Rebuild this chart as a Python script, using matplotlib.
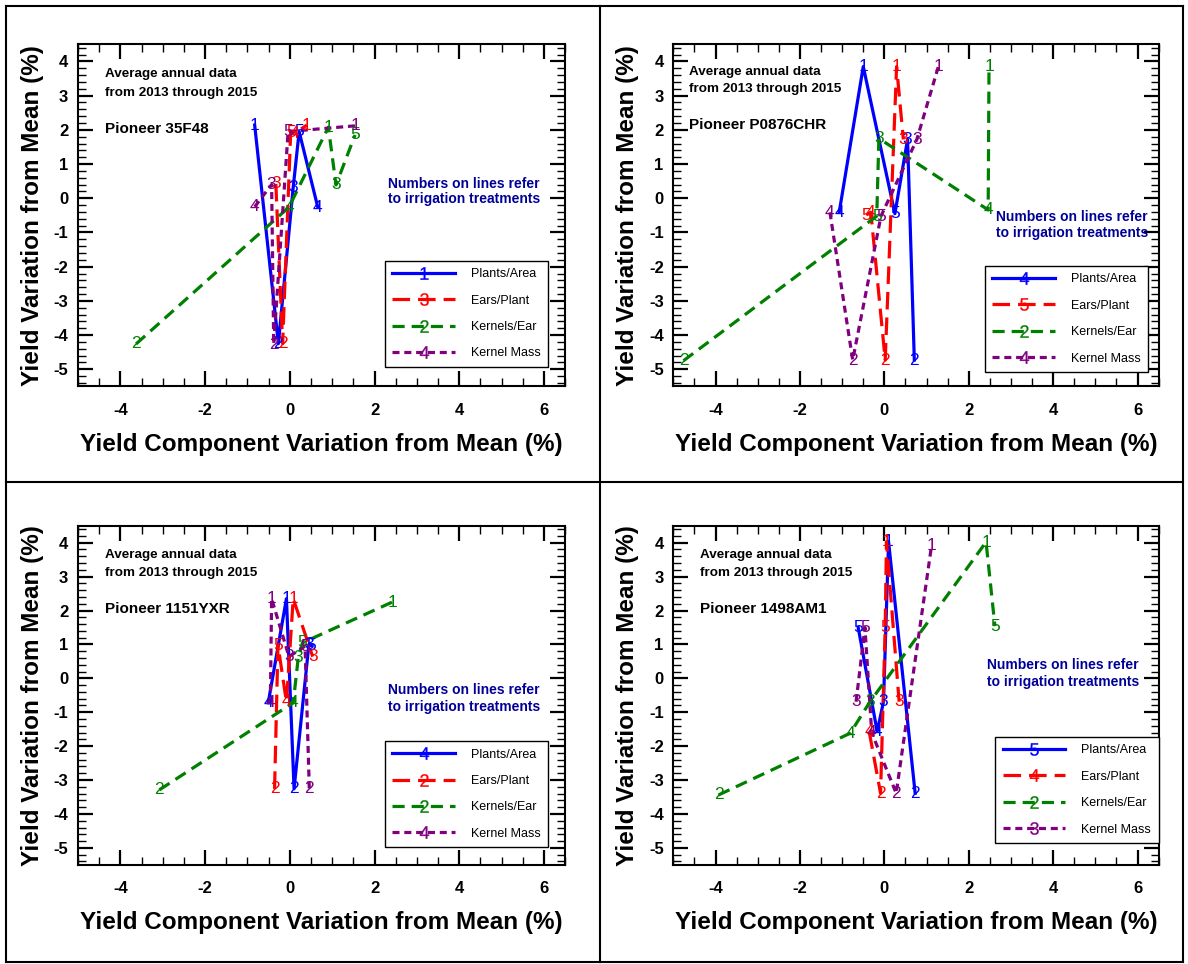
import matplotlib
matplotlib.use('Agg')
import matplotlib.pyplot as plt
from matplotlib.lines import Line2D
from matplotlib.ticker import MultipleLocator

plt.rcParams['font.family'] = 'Liberation Sans'
plt.rcParams['mathtext.default'] = 'regular'
plt.rcParams['axes.unicode_minus'] = False

series_names = ['Plants/Area', 'Ears/Plant', 'Kernels/Ear', 'Kernel Mass']
series_colors = ['#0000ff', '#ff0000', '#008000', '#800080']
series_dashes = [None, (5.5, 2.5), (3.8, 2.2), (2.2, 1.5)]

# Pioneer 35F48
p1_plants_trt = [1, 2, 3, 5, 4]
p1_plants_x = [-0.83, -0.27, 0.08, 0.22, 0.66]
p1_plants_y = [2.14, -4.25, 0.32, 1.95, -0.26]
p1_ears_trt = [3, 2, 5, 4, 1]
p1_ears_x = [-0.33, -0.17, 0.02, 0.12, 0.40]
p1_ears_y = [0.42, -4.25, 1.93, 1.90, 2.14]
p1_kernels_trt = [2, 4, 1, 3, 5]
p1_kernels_x = [-3.63, -0.02, 0.91, 1.09, 1.54]
p1_kernels_y = [-4.26, -0.26, 2.08, 0.39, 1.85]
p1_mass_trt = [4, 3, 2, 5, 1]
p1_mass_x = [-0.83, -0.43, -0.38, -0.04, 1.56]
p1_mass_y = [-0.25, 0.40, -4.27, 1.95, 2.12]
p1_legend_digits = ['1', '3', '2', '4']

# Pioneer P0876CHR
p2_plants_trt = [4, 1, 5, 3, 2]
p2_plants_x = [-1.07, -0.50, 0.25, 0.55, 0.71]
p2_plants_y = [-0.41, 3.85, -0.45, 1.72, -4.73]
p2_ears_trt = [5, 4, 2, 1, 3]
p2_ears_x = [-0.43, -0.32, 0.02, 0.29, 0.45]
p2_ears_y = [-0.49, -0.41, -4.73, 3.85, 1.72]
p2_kernels_trt = [2, 5, 3, 4, 1]
p2_kernels_x = [-4.76, -0.18, -0.13, 2.46, 2.48]
p2_kernels_y = [-4.75, -0.52, 1.75, -0.34, 3.85]
p2_mass_trt = [4, 2, 5, 3, 1]
p2_mass_x = [-1.29, -0.75, -0.08, 0.77, 1.28]
p2_mass_y = [-0.41, -4.73, -0.52, 1.72, 3.85]
p2_legend_digits = ['4', '5', '2', '4']

# Pioneer 1151YXR
p3_plants_trt = [4, 1, 2, 3, 5]
p3_plants_x = [-0.51, -0.08, 0.10, 0.45, 0.50]
p3_plants_y = [-0.72, 2.35, -3.26, 1.00, 0.97]
p3_ears_trt = [2, 5, 4, 1, 3]
p3_ears_x = [-0.36, -0.28, -0.08, 0.08, 0.54]
p3_ears_y = [-3.26, 0.98, -0.69, 2.35, 0.64]
p3_kernels_trt = [2, 4, 3, 5, 1]
p3_kernels_x = [-3.08, 0.08, 0.20, 0.30, 2.42]
p3_kernels_y = [-3.29, -0.72, 0.62, 1.05, 2.25]
p3_mass_trt = [4, 1, 3, 5, 2]
p3_mass_x = [-0.46, -0.43, -0.02, 0.36, 0.46]
p3_mass_y = [-0.72, 2.35, 0.64, 0.95, -3.26]
p3_legend_digits = ['4', '2', '2', '4']

# Pioneer 1498AM1
p4_plants_trt = [5, 4, 3, 1, 2]
p4_plants_x = [-0.62, -0.17, -0.02, 0.10, 0.73]
p4_plants_y = [1.50, -1.57, -0.69, 4.03, -3.39]
p4_ears_trt = [4, 2, 5, 1, 3]
p4_ears_x = [-0.36, -0.09, 0.02, 0.05, 0.35]
p4_ears_y = [-1.57, -3.39, 1.50, 4.03, -0.69]
p4_kernels_trt = [2, 4, 3, 1, 5]
p4_kernels_x = [-3.93, -0.81, -0.34, 2.41, 2.62]
p4_kernels_y = [-3.44, -1.62, -0.69, 4.02, 1.54]
p4_mass_trt = [3, 5, 4, 2, 1]
p4_mass_x = [-0.67, -0.46, -0.30, 0.28, 1.12]
p4_mass_y = [-0.69, 1.50, -1.60, -3.39, 3.93]
p4_legend_digits = ['5', '4', '2', '3']

panels = [
    dict(name='Pioneer 35F48', rect=[0.0657, 0.5992, 0.41, 0.3548],
         series=[(p1_plants_trt, p1_plants_x, p1_plants_y), (p1_ears_trt, p1_ears_x, p1_ears_y),
                 (p1_kernels_trt, p1_kernels_x, p1_kernels_y), (p1_mass_trt, p1_mass_x, p1_mass_y)],
         digits=p1_legend_digits, note=(0.637, 0.593, 0.547), leg=(0.63, 0.057), head=(0.055, 0.912, 0.859, 0.753)),
    dict(name='Pioneer P0876CHR', rect=[0.5668, 0.5992, 0.4085, 0.3548],
         series=[(p2_plants_trt, p2_plants_x, p2_plants_y), (p2_ears_trt, p2_ears_x, p2_ears_y),
                 (p2_kernels_trt, p2_kernels_x, p2_kernels_y), (p2_mass_trt, p2_mass_x, p2_mass_y)],
         digits=p2_legend_digits, note=(0.665, 0.495, 0.449), leg=(0.642, 0.042), head=(0.033, 0.918, 0.869, 0.764)),
    dict(name='Pioneer 1151YXR', rect=[0.0657, 0.1029, 0.41, 0.3517],
         series=[(p3_plants_trt, p3_plants_x, p3_plants_y), (p3_ears_trt, p3_ears_x, p3_ears_y),
                 (p3_kernels_trt, p3_kernels_x, p3_kernels_y), (p3_mass_trt, p3_mass_x, p3_mass_y)],
         digits=p3_legend_digits, note=(0.637, 0.516, 0.466), leg=(0.63, 0.052), head=(0.055, 0.914, 0.86, 0.754)),
    dict(name='Pioneer 1498AM1', rect=[0.5668, 0.1029, 0.4085, 0.3517],
         series=[(p4_plants_trt, p4_plants_x, p4_plants_y), (p4_ears_trt, p4_ears_x, p4_ears_y),
                 (p4_kernels_trt, p4_kernels_x, p4_kernels_y), (p4_mass_trt, p4_mass_x, p4_mass_y)],
         digits=p4_legend_digits, note=(0.646, 0.589, 0.539), leg=(0.663, 0.064), head=(0.054, 0.914, 0.86, 0.754)),
]

fig = plt.figure(figsize=(11.88, 9.64), dpi=100)

for p in panels:
    ax = fig.add_axes(p['rect'])
    handles = []
    for (trt, xs, ys), col, dsh, name, dg in zip(p['series'], series_colors, series_dashes,
                                                  series_names, p['digits']):
        # lines join the points in order of x
        pts = sorted(zip(xs, ys, trt))
        sx = [q[0] for q in pts]
        sy = [q[1] for q in pts]
        kw = dict(color=col, lw=2.3)
        if dsh is not None:
            kw['dashes'] = dsh
        ax.plot(sx, sy, **kw)
        for x, y, t in pts:
            ax.text(x, y, str(t), color=col, fontsize=12.5, ha='center', va='center', zorder=4)
        handles.append(Line2D([], [], marker='$' + dg + '$', markersize=9, mfc=col, mec=col,
                              mew=0.2, label=name, **kw))

    ax.set_xlim(-5, 6.5)
    ax.set_ylim(-5.5, 4.5)
    ax.xaxis.set_major_locator(MultipleLocator(2))
    ax.xaxis.set_minor_locator(MultipleLocator(0.5))
    ax.yaxis.set_major_locator(MultipleLocator(1))
    ax.yaxis.set_minor_locator(MultipleLocator(0.2))
    ax.tick_params(which='both', direction='in', top=True, right=True)
    ax.tick_params(which='major', length=11, width=1.6, labelsize=12, pad=7)
    ax.tick_params(axis='x', which='major', pad=12)
    ax.tick_params(which='minor', length=5.5, width=1)
    for s in ax.spines.values():
        s.set_linewidth(1.5)
    for lbl in ax.get_xticklabels() + ax.get_yticklabels():
        lbl.set_fontweight('bold')

    ax.set_xlabel('Yield Component Variation from Mean (%)', fontsize=17.5, fontweight='bold')
    ax.set_ylabel('Yield Variation from Mean (%)', fontsize=17.5, fontweight='bold')
    ax.xaxis.set_label_coords(0.5, -0.135)
    ax.yaxis.set_label_coords(-0.07, 0.5)

    hx, hy1, hy2, hy3 = p['head']
    ax.text(hx, hy1, 'Average annual data', transform=ax.transAxes, fontsize=9.7,
            fontweight='bold', va='center')
    ax.text(hx, hy2, 'from 2013 through 2015', transform=ax.transAxes, fontsize=9.7,
            fontweight='bold', va='center')
    ax.text(hx, hy3, p['name'], transform=ax.transAxes, fontsize=11, fontweight='bold', va='center')

    nx, ny1, ny2 = p['note']
    ax.text(nx, ny1, 'Numbers on lines refer', transform=ax.transAxes, fontsize=10,
            fontweight='bold', color='#000099', va='center')
    ax.text(nx, ny2, 'to irrigation treatments', transform=ax.transAxes, fontsize=10,
            fontweight='bold', color='#000099', va='center')

    leg = ax.legend(handles=handles, loc='lower left', bbox_to_anchor=p['leg'], numpoints=1,
                    fontsize=9, handlelength=5, handletextpad=1.3, labelspacing=1.15,
                    borderpad=0.6, borderaxespad=0, fancybox=False, framealpha=1,
                    edgecolor='black')
    leg.get_frame().set_linewidth(1)

# table borders around the four panels
for xs, ys in [([0.005, 0.996], [0.994, 0.994]), ([0.005, 0.996], [0.5, 0.5]),
               ([0.005, 0.996], [0.002, 0.002]), ([0.005, 0.005], [0.002, 0.994]),
               ([0.505, 0.505], [0.002, 0.994]), ([0.996, 0.996], [0.002, 0.994])]:
    fig.add_artist(Line2D(xs, ys, transform=fig.transFigure, color='black', lw=1.5))

fig.savefig('out.png', dpi=100)
